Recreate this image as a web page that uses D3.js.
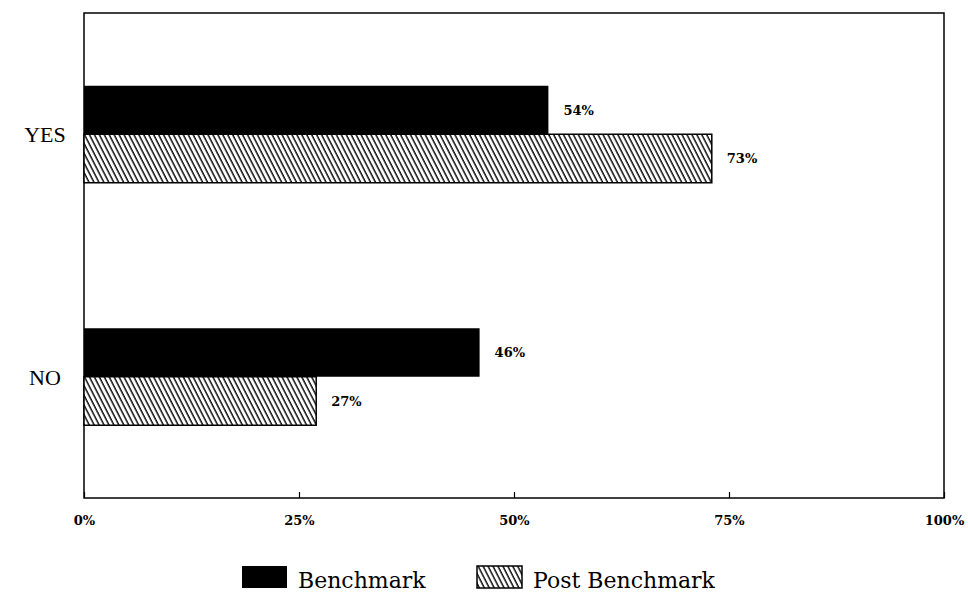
<!DOCTYPE html>
<html>
<head>
<meta charset="utf-8">
<script src="https://cdn.jsdelivr.net/npm/d3@7/dist/d3.min.js"></script>
<style>
  html, body { margin: 0; padding: 0; background: #fff; }
  svg { display: block; }
</style>
</head>
<body>
<svg id="chart" width="968" height="593"></svg>
<script>
// Survey answers, share of respondents per phase
const categories = ["YES", "NO"];
const seriesNames = ["Benchmark", "Post Benchmark"];
const benchmark = [54, 46];
const postBenchmark = [73, 27];
const tickValues = [0, 25, 50, 75, 100];
const tickLabels = ["0%", "25%", "50%", "75%", "100%"];

const seriesValues = [benchmark, postBenchmark];
const rows = [];
categories.forEach((c, i) => {
  seriesNames.forEach((s, j) => rows.push({ category: c, series: s, value: seriesValues[j][i] }));
});

const svg = d3.select("#chart");
const plotLeft = 84, plotRight = 944, plotTop = 13, plotBottom = 498;

// Diagonal hatch fill for the second series
const defs = svg.append("defs");
const pat = defs.append("pattern")
  .attr("id", "hatch")
  .attr("patternUnits", "userSpaceOnUse")
  .attr("width", 4.4).attr("height", 10)
  .attr("patternTransform", "rotate(-27)");
pat.append("rect").attr("width", 4.4).attr("height", 10).attr("fill", "#fff");
pat.append("line")
  .attr("x1", 1).attr("y1", -1).attr("x2", 1).attr("y2", 11)
  .attr("stroke", "#000").attr("stroke-width", 1.4);

const fills = d3.scaleOrdinal().domain(seriesNames).range(["#000", "url(#hatch)"]);

const x = d3.scaleLinear().domain([0, 100]).range([plotLeft, plotRight]);
const y = d3.scaleBand().domain(categories).range([plotTop, plotBottom])
  .paddingInner(0.6).paddingOuter(0.3);
const ySub = d3.scaleBand().domain(seriesNames).range([0, y.bandwidth()]);

// Plot frame
svg.append("rect")
  .attr("x", plotLeft).attr("y", plotTop)
  .attr("width", plotRight - plotLeft).attr("height", plotBottom - plotTop)
  .attr("fill", "none").attr("stroke", "#000").attr("stroke-width", 1.5);

// Bottom axis: short ticks pointing up into the plot
const xAxis = d3.axisBottom(x)
  .tickValues(tickValues)
  .tickSize(-6)
  .tickFormat((d, i) => tickLabels[i]);
const gx = svg.append("g").attr("transform", `translate(0,${plotBottom})`).call(xAxis);
gx.select(".domain").remove();
gx.selectAll(".tick line").attr("stroke", "#000").attr("stroke-width", 1.2);
gx.selectAll(".tick text")
  .attr("y", 27).attr("dy", 0)
  .attr("fill", "#000")
  .style("font-family", "'DejaVu Serif', serif")
  .style("font-weight", "bold")
  .style("font-size", "13px");

// Category labels
svg.append("g").selectAll("text")
  .data(categories)
  .join("text")
  .attr("x", 45)
  .attr("y", d => y(d) + y.bandwidth() / 2)
  .attr("dy", "0.36em")
  .attr("text-anchor", "middle")
  .style("font-family", "'Liberation Serif', serif")
  .style("font-size", "22px")
  .text(d => d);

// Bars
svg.append("g").selectAll("rect")
  .data(rows)
  .join("rect")
  .attr("x", x(0))
  .attr("y", d => y(d.category) + ySub(d.series))
  .attr("width", d => x(d.value) - x(0))
  .attr("height", ySub.bandwidth())
  .attr("fill", d => fills(d.series))
  .attr("stroke", d => d.series === seriesNames[1] ? "#000" : "none")
  .attr("stroke-width", 1.5);

// Value labels
svg.append("g").selectAll("text")
  .data(rows)
  .join("text")
  .attr("x", d => x(d.value) + 15)
  .attr("y", d => y(d.category) + ySub(d.series) + ySub.bandwidth() / 2)
  .attr("dy", "0.36em")
  .style("font-family", "'DejaVu Serif', serif")
  .style("font-weight", "bold")
  .style("font-size", "13px")
  .text(d => d.value + "%");

// Legend
const legendX = [242, 477];
const leg = svg.append("g").selectAll("g")
  .data(seriesNames)
  .join("g")
  .attr("transform", (d, i) => `translate(${legendX[i]},566)`);
leg.append("rect")
  .attr("width", 45).attr("height", 22)
  .attr("fill", d => fills(d))
  .attr("stroke", d => d === seriesNames[1] ? "#000" : "none")
  .attr("stroke-width", 1.5);
leg.append("text")
  .attr("x", 56).attr("y", 22)
  .style("font-family", "'DejaVu Serif', serif")
  .style("font-size", "22px")
  .text(d => d);
</script>
</body>
</html>
